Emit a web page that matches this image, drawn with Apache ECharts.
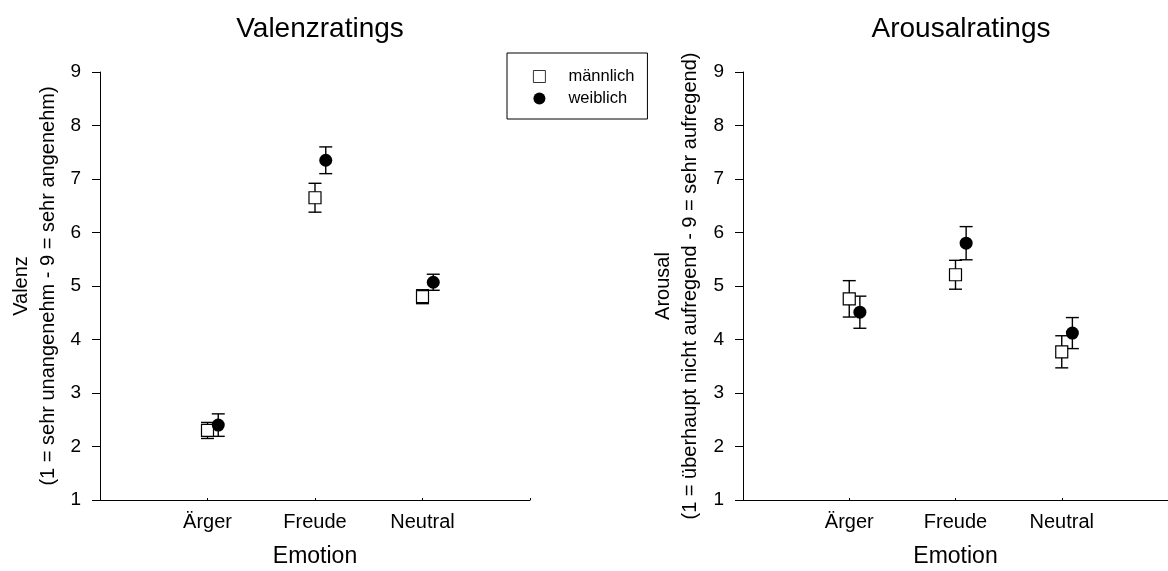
<!DOCTYPE html>
<html>
<head>
<meta charset="utf-8">
<script src="https://cdn.jsdelivr.net/npm/echarts@6/dist/echarts.min.js"></script>
<style>
  html, body { margin: 0; padding: 0; background: #fff; }
  #chart { width: 1168px; height: 571px; }
</style>
</head>
<body>
<div id="chart"></div>
<script>
// Kategorien und Tickwerte
var categories = ['Ärger', 'Freude', 'Neutral'];
var yTicks = [1, 2, 3, 4, 5, 6, 7, 8, 9];

// Valenz: Mittelwerte und Standardfehler
var valenzMaennlich = [2.30, 6.65, 4.80];
var valenzMaennlichSE = [0.15, 0.27, 0.13];
var valenzWeiblich = [2.40, 7.35, 5.07];
var valenzWeiblichSE = [0.21, 0.25, 0.15];

// Arousal: Mittelwerte und Standardfehler
var arousalMaennlich = [4.76, 5.21, 3.77];
var arousalMaennlichSE = [0.34, 0.27, 0.30];
var arousalWeiblich = [4.51, 5.80, 4.12];
var arousalWeiblichSE = [0.30, 0.31, 0.29];

var FONT = 'Liberation Sans, Arial, sans-serif';
var SHIFT_W = 0.1; // weiblich leicht nach rechts versetzt

function points(values, shift) {
    return values.map(function(v, i) { return [i + 1 + shift, v]; });
}

function bars(values, se, shift) {
    return values.map(function(v, i) { return [i + 1 + shift, v - se[i], v + se[i]]; });
}

// Fehlerbalken mit Kappen
function renderErrorBar(params, api) {
    var lo = api.coord([api.value(0), api.value(1)]);
    var hi = api.coord([api.value(0), api.value(2)]);
    var w = 6.5;
    var style = { stroke: '#000', lineWidth: 1.4 };
    return {
        type: 'group',
        children: [
            { type: 'line', shape: { x1: lo[0], y1: lo[1], x2: hi[0], y2: hi[1] }, style: style },
            { type: 'line', shape: { x1: lo[0] - w, y1: lo[1], x2: lo[0] + w, y2: lo[1] }, style: style },
            { type: 'line', shape: { x1: hi[0] - w, y1: hi[1], x2: hi[0] + w, y2: hi[1] }, style: style }
        ]
    };
}

function xAxis(idx) {
    return {
        type: 'value', gridIndex: idx, min: 0, max: 4, interval: 1,
        name: 'Emotion', nameLocation: 'middle', nameGap: 45,
        nameTextStyle: { fontSize: 23, color: '#000', fontFamily: FONT },
        axisLine: { lineStyle: { color: '#000', width: 1 } },
        axisTick: { inside: true, length: 2, lineStyle: { color: '#000' } },
        splitLine: { show: false },
        axisLabel: {
            fontSize: 20, color: '#000', fontFamily: FONT, margin: 12,
            formatter: function(v) { return categories[v - 1] || ''; }
        }
    };
}

function yAxis(idx, name, gap) {
    return {
        type: 'value', gridIndex: idx, min: yTicks[0], max: yTicks[yTicks.length - 1], interval: 1,
        name: name, nameLocation: 'middle', nameGap: gap, nameRotate: 90,
        nameTextStyle: { fontSize: 20, color: '#000', fontFamily: FONT, lineHeight: 27 },
        axisLine: { show: true, lineStyle: { color: '#000', width: 1 } },
        axisTick: { show: true, length: 8, lineStyle: { color: '#000' } },
        splitLine: { show: false },
        axisLabel: { fontSize: 19, color: '#000', fontFamily: FONT, margin: 19 }
    };
}

function panelSeries(idx, male, maleSE, female, femaleSE) {
    return [
        { name: 'fehler_m' + idx, type: 'custom', xAxisIndex: idx, yAxisIndex: idx, z: 1,
          renderItem: renderErrorBar, data: bars(male, maleSE, 0) },
        { name: 'fehler_w' + idx, type: 'custom', xAxisIndex: idx, yAxisIndex: idx, z: 1,
          renderItem: renderErrorBar, data: bars(female, femaleSE, SHIFT_W) },
        { name: 'männlich', type: 'scatter', xAxisIndex: idx, yAxisIndex: idx, z: 3,
          symbol: 'rect', symbolSize: 12,
          itemStyle: { color: '#fff', borderColor: '#000', borderWidth: 1.2, opacity: 1 },
          data: points(male, 0) },
        { name: 'weiblich', type: 'scatter', xAxisIndex: idx, yAxisIndex: idx, z: 3,
          symbol: 'circle', symbolSize: 13,
          itemStyle: { color: '#000', opacity: 1 },
          data: points(female, SHIFT_W) }
    ];
}

var chart = echarts.init(document.getElementById('chart'));

var option = {
    animation: false,
    backgroundColor: '#fff',
    title: [
        { text: 'Valenzratings', left: 315, top: 10, textAlign: 'center',
          textStyle: { fontSize: 28, fontWeight: 'normal', color: '#000', fontFamily: FONT } },
        { text: 'Arousalratings', left: 956, top: 10, textAlign: 'center',
          textStyle: { fontSize: 28, fontWeight: 'normal', color: '#000', fontFamily: FONT } }
    ],
    legend: {
        data: [
            { name: 'männlich', itemStyle: { color: '#fff', borderColor: '#000', borderWidth: 0.8 } },
            { name: 'weiblich' }
        ],
        orient: 'vertical',
        left: 507, top: 53,
        width: 140,
        padding: [15, 13, 12, 26],
        itemGap: 5,
        itemWidth: 12, itemHeight: 12,
        borderColor: '#000', borderWidth: 1,
        textStyle: { fontSize: 16.5, color: '#000', fontFamily: FONT, padding: [0, 0, 0, 18] },
        selectedMode: false
    },
    grid: [
        { left: 100, top: 72, width: 430, height: 428, containLabel: false, outerBoundsMode: 'none' },
        { left: 743, top: 72, width: 425, height: 428, containLabel: false, outerBoundsMode: 'none' }
    ],
    xAxis: [xAxis(0), xAxis(1)],
    yAxis: [
        yAxis(0, 'Valenz\n(1 = sehr unangenehm - 9 = sehr angenehm)', 38),
        yAxis(1, 'Arousal\n(1 = überhaupt nicht aufregend - 9 = sehr aufregend)', 39)
    ],
    series: panelSeries(0, valenzMaennlich, valenzMaennlichSE, valenzWeiblich, valenzWeiblichSE)
        .concat(panelSeries(1, arousalMaennlich, arousalMaennlichSE, arousalWeiblich, arousalWeiblichSE))
};

chart.setOption(option);
</script>
</body>
</html>
